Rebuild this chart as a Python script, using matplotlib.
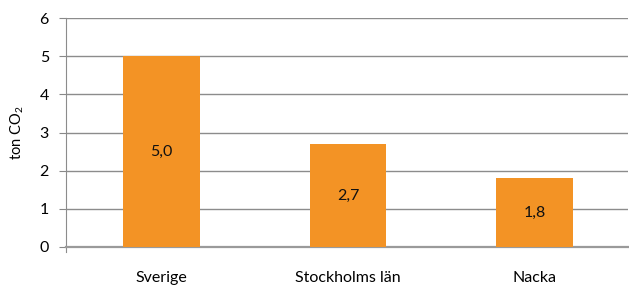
import matplotlib.pyplot as plt

# Data
categories = ["Sverige", "Stockholms län", "Nacka"]
values = [5.0, 2.7, 1.8]
value_labels = ["5,0", "2,7", "1,8"]
yticks = [0, 1, 2, 3, 4, 5, 6]

plt.rcParams['font.family'] = ['Lato', 'DejaVu Sans']
plt.rcParams['mathtext.fontset'] = 'custom'
plt.rcParams['mathtext.rm'] = 'Lato'

fig = plt.figure(figsize=(6.29, 2.87), dpi=100)
ax = fig.add_axes([0.1043, 0.1394, 0.894, 0.7976])

x = range(len(categories))
bars = ax.bar(x, values, width=0.41, color="#F39325", zorder=3)

for xi, v, lab in zip(x, values, value_labels):
    ax.text(xi, v / 2, lab, ha="center", va="center", fontsize=11.5, color="#111111", zorder=4)

ax.set_xlim(-0.515, len(categories) - 0.5)
ax.set_ylim(0, 6)
ax.set_yticks(yticks)
ax.set_yticklabels([str(t) for t in yticks], fontsize=11.5)
ax.set_xticks(list(x))
ax.set_xticklabels(categories, fontsize=11.5)
ax.tick_params(axis="x", length=0, pad=17)
ax.tick_params(axis="y", length=5, width=0.8, color="#888888", pad=7)

ax.yaxis.grid(True, color="#8c8c8c", linewidth=1.0, zorder=0)
for s in ["top", "right"]:
    ax.spines[s].set_visible(False)
ax.spines["left"].set_color("#8c8c8c")
ax.spines["left"].set_linewidth(0.8)
ax.spines["left"].set_bounds(-0.12, 6)
ax.spines["bottom"].set_color("#9a9a9a")
ax.spines["bottom"].set_linewidth(1.6)

ax.set_ylabel("ton CO$_\\mathregular{2}$", fontsize=10.5, labelpad=10)

fig.savefig("out.png", dpi=100)
